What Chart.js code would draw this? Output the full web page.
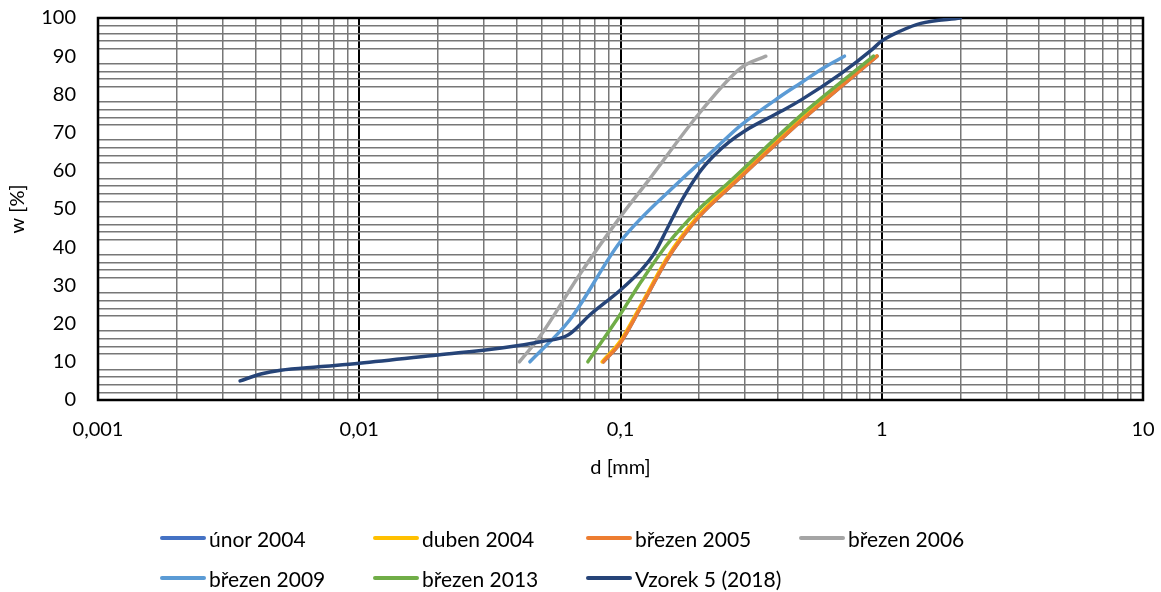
<!DOCTYPE html>
<html>
<head>
<meta charset="utf-8">
<script src="https://cdn.jsdelivr.net/npm/chart.js@4.4.1/dist/chart.umd.min.js"></script>
<style>
  body { margin: 0; background: #fff; }
  #wrap { position: relative; width: 1161px; height: 592px; font-family: Lato, sans-serif; }
  #legend { position: absolute; left: 160px; top: 518px; display: grid; grid-template-columns: repeat(4, 213px); grid-auto-rows: 40px; font-size: 21px; color: #000; }
  .item { display: flex; align-items: center; white-space: nowrap; }
  .swatch { width: 46px; height: 4px; margin-right: 3px; border-radius: 2px; }
</style>
</head>
<body>
<div id="wrap">
  <canvas id="c" width="1161" height="592"></canvas>
  <div id="legend"></div>
</div>
<script>
// grain size curves, d in mm, w in %
var seriesNames = ['únor 2004', 'duben 2004', 'březen 2005', 'březen 2006', 'březen 2009', 'březen 2013', 'Vzorek 5 (2018)'];
var seriesColors = ['#4472C4', '#FFC000', '#ED7D31', '#A5A5A5', '#5B9BD5', '#70AD47', '#264478'];

var unor2004D = [0.086, 0.1, 0.12, 0.15, 0.17, 0.2, 0.28, 0.49, 0.96];
var unor2004W = [10, 15, 24.5, 36.5, 42, 48, 57.5, 73, 90];
var duben2004D = [0.085, 0.1, 0.12, 0.15, 0.17, 0.2, 0.28, 0.49, 0.955];
var duben2004W = [10, 15.5, 25, 37, 42.5, 48.5, 58, 73.5, 90];
var brezen2005D = [0.086, 0.1, 0.12, 0.15, 0.17, 0.2, 0.28, 0.49, 0.96];
var brezen2005W = [10, 15, 24.5, 36.5, 42, 48, 57.5, 73, 90];
var brezen2006D = [0.041, 0.049, 0.07, 0.1, 0.128, 0.2, 0.29, 0.36];
var brezen2006W = [10, 16.5, 33, 48, 57.5, 75, 87, 90];
var brezen2009D = [0.045, 0.064, 0.1, 0.17, 0.22, 0.29, 0.41, 0.49, 0.6, 0.72];
var brezen2009W = [10, 21, 41.5, 57.5, 64.5, 72, 79.5, 83, 87, 90];
var brezen2013D = [0.075, 0.1, 0.12, 0.15, 0.2, 0.26, 0.49, 0.93];
var brezen2013W = [10, 22.5, 31, 40.5, 50, 57, 74.5, 90];
var vzorek5D = [0.0035, 0.0042, 0.005, 0.007, 0.01, 0.02, 0.035, 0.05, 0.063, 0.077, 0.1, 0.12, 0.135, 0.15, 0.172, 0.2, 0.228, 0.26, 0.3, 0.41, 0.49, 0.7, 0.91, 1.0, 1.18, 1.41, 2.0];
var vzorek5W = [5, 6.8, 7.8, 8.7, 9.6, 11.8, 13.6, 15.3, 17, 22.5, 28.8, 34, 38.5, 44.5, 52.4, 59.5, 64, 67.5, 70.5, 75.5, 78.5, 85.5, 91.5, 94, 96.6, 98.6, 100];

var seriesD = [unor2004D, duben2004D, brezen2005D, brezen2006D, brezen2009D, brezen2013D, vzorek5D];
var seriesW = [unor2004W, duben2004W, brezen2005W, brezen2006W, brezen2009W, brezen2013W, vzorek5W];

var xMajor = [0.001, 0.01, 0.1, 1, 10];
var xMinorSteps = [2, 3, 4, 5, 6, 7, 8, 9];
var xTickLabels = ['0,001', '0,01', '0,1', '1', '10'];
var yLabelStep = 10;

function majorIndex(v) {
  for (var k = 0; k < xMajor.length; k++) {
    if (Math.abs(xMajor[k] - v) < xMajor[k] * 1e-6) return k;
  }
  return -1;
}

// drop the extra room chart.js reserves for edge labels
function noEdgePadding(s) {
  s.paddingLeft = 0; s.paddingRight = 0; s.paddingTop = 0; s.paddingBottom = 0;
}

Chart.defaults.font.family = 'Lato, sans-serif';
Chart.defaults.color = '#000';

var datasets = seriesNames.map(function(name, i) {
  return {
    label: name,
    data: seriesD[i].map(function(d, j) { return { x: d, y: seriesW[i][j] }; }),
    borderColor: seriesColors[i],
    backgroundColor: seriesColors[i],
    borderWidth: 3.5,
    borderCapStyle: 'round',
    borderJoinStyle: 'round',
    pointRadius: 0,
    fill: false,
    cubicInterpolationMode: 'monotone',
    order: seriesNames.length - i
  };
});

var framePlugin = {
  id: 'frame',
  beforeDatasetsDraw: function(chart) {
    var a = chart.chartArea, ctx = chart.ctx;
    ctx.save();
    ctx.strokeStyle = '#000';
    ctx.lineWidth = 2.5;
    ctx.strokeRect(a.left, a.top, a.right - a.left, a.bottom - a.top);
    ctx.restore();
  }
};

new Chart(document.getElementById('c'), {
  type: 'line',
  data: { datasets: datasets },
  plugins: [framePlugin],
  options: {
    responsive: false,
    animation: false,
    devicePixelRatio: 1,
    layout: { padding: { left: 0, right: 18, top: 18, bottom: 0 } },
    plugins: { legend: { display: false }, tooltip: { enabled: false } },
    scales: {
      x: {
        type: 'logarithmic',
        min: 0.001,
        max: 10,
        afterBuildTicks: function(scale) {
          var t = [];
          xMajor.forEach(function(m, k) {
            t.push({ value: m });
            if (k < xMajor.length - 1) xMinorSteps.forEach(function(s) { t.push({ value: m * s }); });
          });
          scale.ticks = t;
        },
        afterFit: function(s) { s.height = 192; noEdgePadding(s); },
        border: { display: false },
        grid: {
          drawTicks: false,
          color: function(c) { return majorIndex(c.tick.value) >= 0 ? '#000' : '#777'; },
          lineWidth: function(c) { return majorIndex(c.tick.value) >= 0 ? 2 : 1.5; }
        },
        ticks: {
          autoSkip: false, maxRotation: 0, padding: 18, font: { size: 20 },
          callback: function(v) { var k = majorIndex(v); return k >= 0 ? xTickLabels[k] : ''; }
        },
        title: { display: true, text: 'd [mm]', font: { size: 20 }, padding: { top: 0, bottom: 112 } }
      },
      y: {
        min: 0,
        max: 100,
        afterFit: function(s) { s.width = 98; noEdgePadding(s); },
        border: { display: false },
        grid: {
          drawTicks: false,
          color: function(c) { return c.tick.value % yLabelStep === 0 ? 'rgba(0,0,0,0)' : '#777'; },
          lineWidth: 1.5
        },
        ticks: {
          stepSize: 2, maxTicksLimit: 60, autoSkip: false, padding: 22, font: { size: 20 },
          callback: function(v) { return v % yLabelStep === 0 ? String(v) : ''; }
        },
        title: { display: true, text: 'w [%]', font: { size: 20 }, padding: { top: 6, bottom: 0 } }
      }
    }
  }
});

var legend = document.getElementById('legend');
seriesNames.forEach(function(name, i) {
  var item = document.createElement('div'); item.className = 'item';
  var sw = document.createElement('span'); sw.className = 'swatch'; sw.style.background = seriesColors[i];
  var tx = document.createElement('span'); tx.textContent = name;
  item.appendChild(sw); item.appendChild(tx);
  legend.appendChild(item);
});
</script>
</body>
</html>
